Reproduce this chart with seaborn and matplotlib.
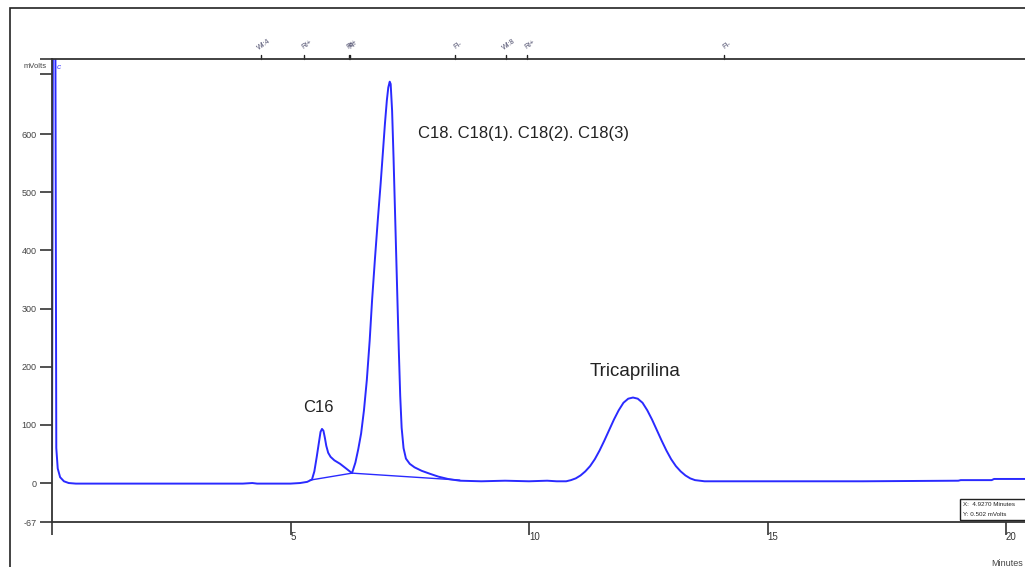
import matplotlib
matplotlib.use("Agg")
import matplotlib.pyplot as plt
import seaborn as sns
import pandas as pd
from matplotlib.patches import Rectangle

# ---------------- data ----------------
time_min = [0.0, 0.02, 0.04, 0.07, 0.09, 0.12, 0.17, 0.25, 0.35, 0.5, 1.0, 2.0, 3.0,
            4.0, 4.2, 4.3, 4.5, 5.0, 5.2, 5.35,
            # C16
            5.45, 5.50, 5.55, 5.60, 5.63, 5.66, 5.69, 5.72, 5.75, 5.79, 5.84, 5.92,
            6.04, 6.15, 6.29,
            # C18 group
            6.36, 6.42, 6.48, 6.54, 6.60, 6.66, 6.71, 6.77, 6.83, 6.89, 6.94, 6.98,
            7.02, 7.05, 7.08, 7.10, 7.13, 7.16, 7.19, 7.23, 7.27, 7.30, 7.33, 7.37,
            7.42, 7.50, 7.60, 7.75, 7.92, 8.10, 8.30, 8.55,
            9.0, 9.5, 10.0, 10.38,
            # Tricaprilina
            10.58, 10.68, 10.78, 10.88, 10.98, 11.08, 11.18, 11.28, 11.38, 11.48,
            11.58, 11.68, 11.78, 11.88, 11.98, 12.08, 12.18, 12.28, 12.38, 12.48,
            12.58, 12.68, 12.78, 12.88, 12.98, 13.08, 13.18, 13.28, 13.38, 13.48,
            13.58, 13.68, 13.78,
            15.0, 17.0, 19.0, 19.05, 19.7, 19.75, 20.4]
signal_mv = [30, 800, 800, 800, 60, 25, 10, 3, 0, -1, -1, -1, -1,
             -1, 0, -1, -1, -1, 0, 2,
             6, 20, 45, 72, 88, 93, 90, 78, 64, 52, 45, 39,
             33, 26, 17,
             35, 58, 85, 125, 177, 245, 314, 385, 452, 515, 572, 618,
             658, 680, 690, 686, 640, 560, 470, 350, 230, 150, 95, 60,
             42, 33, 27, 21, 16, 11, 7, 4,
             3, 4, 3, 4,
             3, 3, 3, 5, 8, 13, 20, 29, 41, 56,
             73, 91, 109, 125, 138, 145, 147, 145, 138, 125,
             109, 91, 73, 56, 41, 29, 20, 13, 8, 5,
             4, 3, 3,
             3, 3, 4, 5, 5, 7, 7]

# integration baselines (drop lines)
base1_t = [5.41, 6.29]
base1_v = [5, 17]
base2_t = [6.29, 8.55]
base2_v = [17, 5]

# peak labels
peak_names = ["C16", "C18. C18(1). C18(2). C18(3)", "Tricaprilina"]
peak_label_t = [5.58, 7.67, 12.22]
peak_label_v = [129, 601, 192]
peak_label_size = [12, 12, 13.5]

# event markers along the top
event_t = [4.38, 5.28, 6.23, 6.25, 8.45, 9.52, 9.96, 14.09]
event_lbl = ["WI:4", "RI+", "RI+", "FI-", "FI-", "WI:8", "RI+", "FI-"]

# axis ticks
x_ticks = [0, 5, 10, 15, 20]
x_tick_labels = ["", "5", "10", "15", "20"]
y_ticks = [-67, 0, 100, 200, 300, 400, 500, 600, 703, 729]
y_tick_labels = ["-67", "0", "100", "200", "300", "400", "500", "600", "", ""]

# ---------------- drawing ----------------
sns.set_style("white")
plt.rcParams["font.family"] = ["Liberation Sans", "DejaVu Sans"]

W, H = 1025, 567
fig = plt.figure(figsize=(W / 100, H / 100), dpi=100)
x0, x1 = 52, 1025
ytop, ybot = 59, 522
ax = fig.add_axes([x0 / W, 1 - ybot / H, (x1 - x0) / W, (ybot - ytop) / H])

line_color = "#2a2aff"
df = pd.DataFrame({"t": time_min, "v": signal_mv})
sns.lineplot(data=df, x="t", y="v", sort=False, estimator=None, ax=ax,
             color=line_color, lw=1.4)
sns.lineplot(x=base1_t, y=base1_v, sort=False, estimator=None, ax=ax,
             color=line_color, lw=1.0)
sns.lineplot(x=base2_t, y=base2_v, sort=False, estimator=None, ax=ax,
             color=line_color, lw=1.0)

ax.set_xlim(0, (x1 - x0) / 47.7)
ax.set_ylim(-67, 729)
ax.set_xlabel("")
ax.set_ylabel("")

for s in ["left", "top", "bottom"]:
    ax.spines[s].set_visible(True)
    ax.spines[s].set_color("#333333")
    ax.spines[s].set_linewidth(1.3)
ax.spines["right"].set_visible(False)

ax.set_xticks(x_ticks)
ax.set_xticklabels(x_tick_labels, ha="left")
ax.set_yticks(y_ticks)
ax.set_yticklabels(y_tick_labels)
ax.tick_params(axis="x", direction="out", length=9, width=1.2, color="#333333",
               labelsize=7, labelcolor="#333333", pad=-2, bottom=True)
ax.tick_params(axis="y", direction="out", length=9, width=1.2, color="#333333",
               labelsize=6.5, labelcolor="#444444", pad=2, left=True)

# peak labels
for name, tx, vy, fs in zip(peak_names, peak_label_t, peak_label_v, peak_label_size):
    ha = "left" if name.startswith("C18") else "center"
    ax.text(tx, vy, name, ha=ha, va="center", fontsize=fs, color="#222222")

# event markers
trans = ax.get_xaxis_transform()
for tx, lb in zip(event_t, event_lbl):
    ax.plot([tx, tx], [1.0, 1.008], transform=trans, color="#222222", lw=1.0,
            clip_on=False)
    ax.text(tx + 0.06, 1.03, lb, transform=trans, fontsize=5, rotation=35,
            ha="center", va="center", color="#4a4a6a")

# small solvent label
ax.text(0.1, 0.99, "c", transform=trans, fontsize=6, color="#4444ff",
        style="italic", ha="left", va="top")

# axis unit labels
fig.text(35 / W, 1 - 66 / H, "mVolts", fontsize=5.5, color="#444444",
         ha="center", va="center")
fig.text(1007 / W, 1 - 563 / H, "Minutes", fontsize=6.5, color="#444444",
         ha="center", va="center")

# cursor info box
fig.add_artist(Rectangle((960 / W, 1 - 520 / H), 80 / W, 21 / H,
                         transform=fig.transFigure, fill=False,
                         edgecolor="#222222", lw=1.0))
fig.text(963 / W, 1 - 504 / H, "X:  4.9270 Minutes", fontsize=4.5,
         color="#222222", ha="left", va="center")
fig.text(963 / W, 1 - 514 / H, "Y: 0.502 mVolts", fontsize=4.5,
         color="#222222", ha="left", va="center")

# outer frame
fig.add_artist(Rectangle((10 / W, -0.1), 1.2, 1 - 8 / H + 0.1,
                         transform=fig.transFigure, fill=False,
                         edgecolor="#222222", lw=1.2))

fig.savefig("out.png", dpi=100)
